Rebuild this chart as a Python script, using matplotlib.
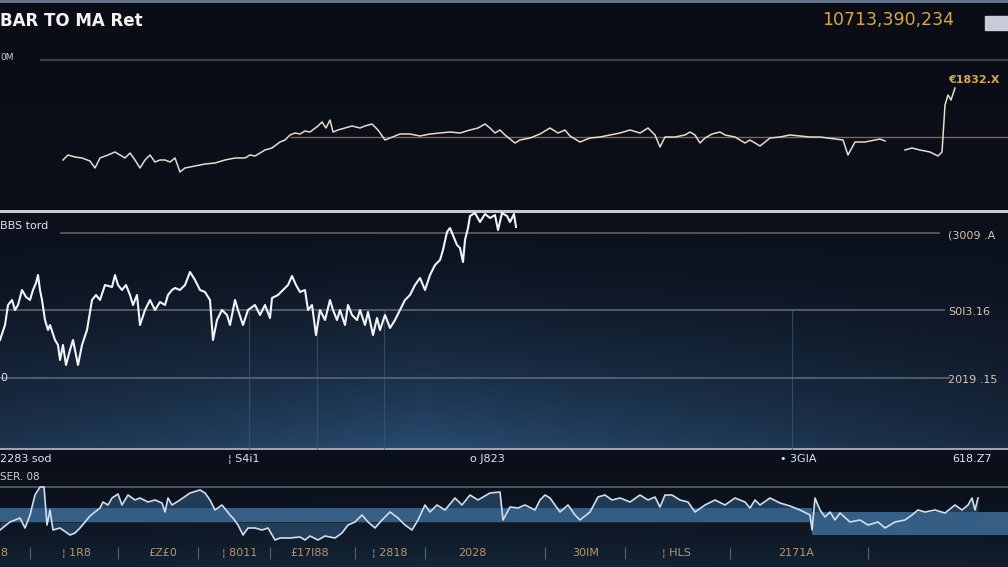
import numpy as np
import matplotlib
matplotlib.use("Agg")
import matplotlib.pyplot as plt
from matplotlib.patches import Rectangle

# ---- data (x = time step, y = panel units) ----
top_x = [63, 68, 75, 82, 90, 95, 100, 108, 115, 120, 125, 130, 135, 140, 145, 150, 155, 160, 165, 170,
         175, 180, 185, 195, 205, 215, 225, 235, 245, 250, 255, 265, 272, 280, 285, 290, 295, 300, 305, 310,
         318, 322, 326, 330, 333, 338, 345, 352, 360, 365, 372, 378, 385, 390, 395, 400, 410, 420, 430, 440,
         450, 460, 470, 478, 485, 490, 495, 500, 505, 515, 520, 530, 540, 550, 558, 565, 570, 580, 590, 600,
         610, 620, 630, 640, 648, 655, 660, 665, 675, 685, 690, 695, 700, 705, 712, 720, 725, 735, 745, 750,
         760, 770, 780, 790, 800, 810, 820, 843, 848, 855, 865, 875, 880, 885, 895,
         905, 912, 920, 930, 938, 942, 945, 948, 951, 955]
top_y = [50, 55, 53, 52, 49, 42, 52, 55, 58, 55, 52, 57, 50, 42, 50, 55, 48, 50, 50, 48,
         52, 38, 42, 44, 46, 47, 50, 52, 52, 55, 54, 60, 62, 68, 70, 75, 77, 76, 79, 78,
         84, 88, 82, 90, 78, 80, 82, 84, 82, 84, 86, 80, 70, 72, 74, 76, 76, 74, 76, 77,
         78, 77, 80, 82, 86, 82, 77, 80, 75, 67, 70, 72, 76, 82, 77, 80, 74, 68, 72, 73,
         75, 77, 80, 77, 82, 75, 63, 73, 73, 75, 78, 75, 67, 72, 76, 78, 75, 73, 67, 70,
         64, 72, 73, 75, 74, 73, 73, 70, 55, 68, 68, 70, 71, 69, np.nan,
         60, 62, 60, 58, 54, 58, 105, 115, 110, 122]

mid_x = [0, 5, 8, 12, 15, 18, 22, 26, 30, 33, 36, 38, 40, 42, 45, 48, 50, 55, 58, 60,
         63, 66, 70, 73, 76, 78, 82, 87, 92, 96, 100, 105, 112, 115, 118, 122, 126, 130, 133, 137,
         140, 145, 150, 155, 160, 165, 168, 172, 175, 180, 185, 190, 195, 200, 205, 210, 213, 217, 222, 227,
         230, 235, 238, 243, 248, 255, 260, 265, 270, 272, 278, 283, 288, 292, 296, 300, 305, 308, 312, 316,
         320, 325, 330, 333, 337, 340, 345, 348, 352, 357, 360, 365, 368, 373, 377, 380, 385, 390, 395, 400,
         405, 410, 415, 420, 425, 430, 435, 440, 443, 447, 450, 455, 457, 460, 463, 465, 468, 470, 475, 480,
         485, 490, 495, 498, 502, 507, 510, 514, 516]
mid_y = [110, 125, 145, 150, 140, 145, 160, 153, 150, 160, 167, 175, 160, 150, 130, 120, 125, 110, 105, 90,
         105, 85, 100, 110, 95, 85, 105, 120, 150, 155, 150, 165, 163, 175, 165, 160, 165, 155, 145, 155,
         125, 140, 150, 140, 148, 145, 155, 160, 162, 160, 165, 178, 170, 160, 158, 150, 110, 130, 140, 135,
         125, 150, 140, 125, 140, 145, 135, 145, 132, 152, 155, 160, 165, 174, 165, 158, 160, 140, 145, 115,
         140, 130, 150, 140, 130, 140, 125, 145, 135, 130, 140, 125, 138, 115, 132, 120, 135, 122, 130, 140,
         150, 155, 165, 172, 160, 175, 185, 190, 200, 218, 222, 210, 205, 202, 188, 210, 222, 234, 237, 228,
         236, 232, 235, 220, 237, 234, 228, 236, 223]

bot_x = [0, 10, 20, 25, 30, 35, 40, 44, 47, 50, 53, 60, 70, 75, 80, 85, 90, 95, 100, 103,
         108, 112, 118, 122, 128, 135, 140, 148, 155, 162, 165, 168, 172, 180, 190, 200, 205, 210, 215, 222,
         230, 233, 238, 243, 248, 255, 262, 268, 275, 280, 290, 300, 305, 310, 318, 325, 335, 342, 348, 355,
         362, 368, 375, 382, 390, 398, 405, 412, 418, 425, 430, 437, 445, 455, 462, 470, 478, 490, 500, 503,
         510, 518, 525, 535, 540, 545, 550, 555, 560, 568, 575, 580, 590, 598, 605, 612, 620, 630, 640, 648,
         655, 660, 665, 672, 680, 688, 695, 705, 715, 725, 735, 745, 750, 755, 760, 770, 780, 790, 800, 810,
         812, 815, 820, 825, 830, 835, 840, 850, 860, 868, 878, 885, 895, 905, 912, 918, 925, 935, 945, 955,
         962, 968, 972, 975, 978]
bot_y = [37, 45, 49, 39, 52, 72, 80, 80, 42, 57, 37, 39, 32, 34, 39, 45, 51, 55, 59, 65,
         62, 69, 73, 62, 72, 67, 69, 65, 67, 64, 55, 69, 62, 67, 74, 77, 74, 67, 57, 62,
         52, 49, 42, 32, 39, 39, 37, 39, 27, 29, 29, 30, 27, 31, 27, 31, 29, 34, 42, 45,
         52, 45, 39, 47, 55, 49, 42, 37, 47, 62, 55, 62, 57, 69, 62, 72, 67, 74, 75, 47,
         60, 59, 62, 57, 67, 72, 69, 62, 55, 62, 52, 47, 55, 70, 72, 67, 69, 65, 72, 67,
         70, 60, 72, 72, 67, 65, 55, 62, 67, 62, 69, 65, 59, 67, 62, 69, 64, 61, 57, 52,
         37, 69, 57, 50, 55, 47, 54, 45, 47, 42, 45, 39, 45, 47, 52, 57, 55, 57, 54, 62,
         57, 62, 69, 57, 69]

band_x = [0, 812, 812, 1008]
band_lo = [45, 45, 32, 32]
band_hi = [59, 59, 55, 55]

mid_levels = [217, 140, 72]
mid_level_labels = ["(3009 .A", "S0I3.16", "2019 .15"]
mid_vlines = [249, 317, 384, 792]

head_x = [0, 228, 470, 780, 952]
head_labels = ["2283 sod", "\u00a6 S4i1", "o J823", "\u2022 3GIA", "618.Z7"]
tick_x = [0, 62, 148, 222, 290, 372, 458, 572, 662, 778]
tick_labels = ["8", "\u00a6 1R8", "\u00a3Z£0", "\u00a6 8011", "\u00a317l88", "\u00a6 2818", "2028",
               "30IM", "\u00a6 HLS", "2171A"]
tick_sep_x = [30, 118, 198, 270, 355, 425, 545, 625, 730, 868]

W, H = 1008, 567
fig = plt.figure(figsize=(W / 100, H / 100), dpi=100, facecolor="#0a0c14")


def panel(top_px, bot_px, ymax):
    ax = fig.add_axes([0, 1 - bot_px / H, 1, (bot_px - top_px) / H])
    ax.set_xlim(0, W)
    ax.set_ylim(0, ymax)
    ax.axis("off")
    return ax


def gradient(ax, ymax, top_col, bot_col, power=1.5, side=0.4):
    # row 0 = top of the panel, last row = bottom
    ny, nx = 120, 200
    t = np.linspace(0, 1, ny)[:, None] ** power
    xx = np.linspace(0, 1, nx)[None, :]
    h = 1 - side * np.abs(xx - 0.42) / 0.58
    a = np.array(matplotlib.colors.to_rgb(top_col))
    b = np.array(matplotlib.colors.to_rgb(bot_col))
    w = (t * h)[..., None]
    img = a + (b - a) * w
    ax.imshow(img, extent=[0, W, 0, ymax], aspect="auto", zorder=0, interpolation="bilinear")
    ax.set_xlim(0, W)
    ax.set_ylim(0, ymax)


# ---- top panel ----
ax1 = panel(0, 210, 210)
gradient(ax1, 210, "#0a0d16", "#0b0f19", power=1.0, side=0.0)
ax1.axhline(209, color="#6a7a90", lw=2)
ax1.hlines(150, 40, W, color="#3c3c3c", lw=1.6)
ax1.hlines(73, 290, W, color="#8a5e4e", lw=1.0)
ax1.plot(top_x, top_y, color="#e6dccd", lw=1.1, zorder=3)
ax1.text(0, 189, "BAR TO MA Ret", color="#f2f2f2", fontsize=12, fontweight="bold", va="center")
ax1.text(822, 190, "10713,390,234", color="#d7a845", fontsize=12.5, va="center")
ax1.add_patch(Rectangle((985, 180), 30, 14, color="#c8ccd8", zorder=2))
ax1.text(0, 153, "0M", color="#cfd3da", fontsize=6.5, va="center")
ax1.text(948, 130, "\u20ac1832.X", color="#d7a845", fontsize=8, fontweight="bold", va="center")

# ---- middle panel ----
ax2 = panel(210, 450, 240)
gradient(ax2, 240, "#0b101b", "#284c70", power=1.6, side=0.55)
ax2.axhline(239, color="#c4cad2", lw=2.2)
ax2.axhline(1, color="#9aa4b2", lw=2.2)
ax2.vlines(mid_vlines, 0, 140, color="#3e5a78", lw=0.8, alpha=0.7)
ax2.hlines(mid_levels[0], 60, 940, color="#6e5a52", lw=1.2)
ax2.hlines(mid_levels[1], 0, 945, color="#5c6672", lw=1.2)
ax2.hlines(mid_levels[2], 0, 950, color="#5c6672", lw=1.2)
for lv, lab in zip(mid_levels, mid_level_labels):
    ax2.text(948, lv - 2, lab, color="#d6c4b4", fontsize=8, va="center")
ax2.plot(mid_x, mid_y, color="#f2f4f7", lw=1.5, zorder=3)
ax2.text(0, 224, "BBS tord", color="#e0e4ea", fontsize=8, va="center")
ax2.text(0, 72, "0", color="#e0e4ea", fontsize=8, va="center")

# ---- bottom panel ----
ax3 = panel(450, 567, 117)
gradient(ax3, 117, "#0b0f19", "#142638", power=2.0, side=0.3)
ax3.axhline(80, color="#56606c", lw=1.2)
ax3.fill_between(band_x, band_lo, band_hi, color="#3e6d98", alpha=0.85, lw=0, zorder=1)
ax3.fill_between(bot_x, bot_y, 45, color="#335d85", alpha=0.55, lw=0, zorder=1)
ax3.plot(bot_x, bot_y, color="#cfdeec", lw=1.2, zorder=3)
for x, lab in zip(head_x, head_labels):
    ax3.text(x, 108, lab, color="#e0e4ea", fontsize=8, va="center")
ax3.text(0, 90, "SER. 08", color="#c8ced6", fontsize=7.5, va="center")
for x, lab in zip(tick_x, tick_labels):
    ax3.text(x, 14, lab, color="#b8956a", fontsize=8, va="center")
ax3.vlines(tick_sep_x, 8, 20, color="#5a6470", lw=0.8)

fig.savefig("out.png", dpi=100, facecolor=fig.get_facecolor())
